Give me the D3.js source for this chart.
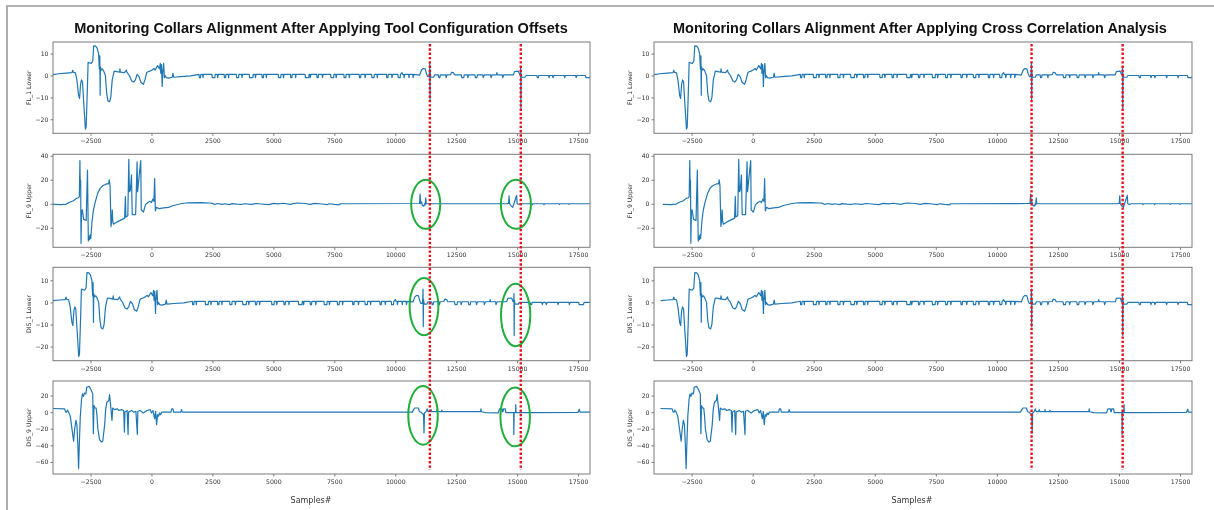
<!DOCTYPE html>
<html>
<head>
<meta charset="utf-8">
<script src="https://cdn.jsdelivr.net/npm/d3@7"></script>
<style>
  html, body { margin: 0; padding: 0; background: #fff; }
  svg { display: block; will-change: transform; }
  svg text { opacity: 0.995; }
</style>
</head>
<body>
<svg id="chart" width="1214" height="510"></svg>
<script>
// ---- data -------------------------------------------------------------
const panelTitles = [
  "Monitoring Collars Alignment After Applying Tool Configuration Offsets",
  "Monitoring Collars Alignment After Applying Cross Correlation Analysis"
];
const channelNames = ["FL_1 Lower", "FL_9 Upper", "DIS_1 Lower", "DIS_9 Upper"];
const sampleTicks = [-2500, 0, 2500, 5000, 7500, 10000, 12500, 15000, 17500];
const sampleExtent = [-4040, 17990];

const fl1Ticks = [-20, -10, 0, 10];
const fl9Ticks = [-20, 0, 20, 40];
const dis1Ticks = [-20, -10, 0, 10];
const dis9Ticks = [-60, -40, -20, 0, 20];
const fl1Extent = [-26.4, 15.3];
const fl9Extent = [-36.3, 41.2];
const dis1Extent = [-26.4, 15.9];
const dis9Extent = [-74.5, 37.5];

// sample shift of each channel in the two panels
const configShift = [0, 0, -275, 0];
const xcorrShift = [0, 360, 0, 265];

// reference sample positions of the two collars
const collarSamples = [11420, 15150];

// FL_1 Lower  [sample, value]
const fl1Lower = [
  [-4040,0.4],[-3800,0.8],[-3500,1.1],[-3260,1.3],[-3230,2.4],[-3200,1.4],[-3120,1.2],[-3060,-2],
  [-2990,-9],[-2950,-10.5],[-2910,-4],[-2870,-2],[-2830,-3],[-2770,-14],[-2710,-24.5],[-2680,-23.5],
  [-2630,-6],[-2600,6],[-2470,5.5],[-2410,6.5],[-2370,13.5],[-2290,13.4],[-2230,12.5],[-2170,10],
  [-2140,3],[-2120,9],[-2105,-9],[-2095,4],[-2060,2.5],[-2010,3],[-1960,2],[-1890,0],[-1840,-8],
  [-1790,-11.5],[-1720,-12],[-1670,-10],[-1610,-2],[-1530,2],[-1420,1.8],[-1310,1.5],[-1295,3],
  [-1275,1.5],[-1110,1.3],[-1030,2.5],[-1010,1.5],[-910,0],[-810,-2.5],[-730,-3],[-660,-2],
  [-590,0.5],[-510,-0.5],[-430,-3.2],[-330,-4],[-270,-2],[-190,1.5],[-70,2],[20,2.5],[100,3.2],
  [150,2.5],[250,4.5],[330,3],[360,5.5],[380,1],[410,5],[440,-5],[460,1],[500,5.5],[530,-1],
  [560,0],[610,-1],[700,-1.2],[850,-0.8],[880,1],[910,-0.8],[1200,-0.5],[1600,-0.2],[1900,0.4],
  [1950,0.5],[1965,-1],[2010,-1],[2025,0.5],[2100,0.5],[2115,-1],[2130,0.5],[2480,0.5],[2495,-1],
  [2600,-1],[2615,0.5],[2700,0.5],[2715,-1],[2740,0.5],[2980,0.5],[2995,-1],[3040,-1],[3055,0.5],
  [3150,0.5],[3165,-1],[3180,0.5],[3480,0.5],[3495,-1],[3570,-1],[3585,0.5],[3700,0.5],[3715,-1],
  [3740,0.5],[4010,0.5],[4025,-1],[4160,-1],[4175,0.5],[4250,0.5],[4265,-1],[4290,0.5],[4530,0.5],
  [4545,-1],[4590,-1],[4605,0.5],[4700,0.5],[4715,-1],[4730,0.5],[5200,0.5],[5215,-1],[5300,-1],
  [5315,0.5],[5400,0.5],[5415,-1],[5440,0.5],[5700,0.5],[5715,-1],[5760,-1],[5775,0.5],[5900,0.5],
  [5915,-1],[5930,0.5],[6300,0.5],[6315,-1],[6450,-1],[6465,0.5],[6500,0.5],[6515,-1],[6540,0.5],
  [6780,0.5],[6795,-1],[6840,-1],[6855,0.5],[7000,0.5],[7015,-1],[7040,0.5],[7350,0.5],[7365,-1],
  [7470,-1],[7485,0.5],[7560,0.5],[7575,-1],[7600,0.5],[7890,0.5],[7905,-1],[7970,-1],[7985,0.5],
  [8100,0.5],[8115,-1],[8140,0.5],[8520,0.5],[8535,-1],[8580,-1],[8595,0.5],[8750,0.5],[8765,-1],
  [8790,0.5],[9030,0.5],[9045,-1],[9130,-1],[9145,0.5],[9250,0.5],[9265,-1],[9280,0.5],[9640,0.5],
  [9655,-1],[9700,-1],[9715,0.5],[9850,0.5],[9865,-1],[9890,0.5],[10110,0.5],[10125,-1],[10200,-1],
  [10215,0.5],[10280,1.3],[10300,0.5],[10350,0.5],[10365,-1],[10390,0.5],[10550,0.5],[10565,-1],
  [10580,0.5],[10720,0.5],[10735,-1],[10760,0.5],[11000,0.2],[11080,2.5],[11150,3.2],[11230,3],
  [11280,0.8],[11330,-0.5],[11380,-0.5],[11405,1.5],[11415,6],[11425,-11],[11435,1.5],[11460,-0.8],
  [11570,-0.8],[11620,0.3],[11770,0.3],[11790,-1],[11830,-1],[11850,0.3],[12070,0.3],[12090,-1],
  [12120,0.3],[12270,0.4],[12310,1.5],[12390,1.2],[12430,0.3],[12710,0.3],[12730,-1],[12810,-1],
  [12830,0.3],[12960,0.3],[12980,-1],[13010,0.3],[13270,0.3],[13290,-1],[13350,-1],[13370,0.3],
  [13590,0.3],[13610,-1],[13650,0.3],[13910,0.3],[13930,-1],[13970,0.3],[14150,0.3],[14170,1.3],
  [14190,0.3],[14390,0.3],[14410,-1],[14450,0.3],[14850,0.3],[14890,1.8],[15050,2],[15100,0.5],
  [15135,0.5],[15145,4],[15155,-15],[15165,1],[15190,-0.8],[15320,-0.8],[15370,0],[15810,0],
  [15830,-1],[15870,-1],[15890,0],[16290,0],[16310,-1],[16340,0],[16450,0],[16470,-1],[16510,0],
  [16930,0],[16950,-1],[16980,0],[17400,0],[17420,-1],[17450,0],[17800,0],[17820,-1],[17990,-1]
];

// FL_9 Upper  [sample, value]
const fl9Upper = [
  [-4040,-0.5],[-3700,-0.7],[-3500,-0.3],[-3380,1],[-3200,2.5],[-3080,4.5],[-2990,5],[-2960,6],
  [-2935,36],[-2925,18],[-2915,20],[-2905,19],[-2890,-33],[-2870,-8],[-2840,-5],[-2780,-13],
  [-2680,-14],[-2625,28],[-2590,-31],[-2560,-27],[-2540,-30],[-2510,-26],[-2490,-29],[-2440,-15],
  [-2380,-5],[-2300,2],[-2200,9],[-2100,13],[-2000,15],[-1850,16.5],[-1760,16.5],[-1730,20],
  [-1700,15],[-1660,-19],[-1630,-14],[-1610,-5],[-1590,-14],[-1560,-17],[-1480,-16],[-1350,-14.5],
  [-1200,-13],[-1100,-12],[-1070,6],[-1050,-11],[-970,-10],[-930,37],[-905,10],[-870,11],
  [-820,24],[-790,-9],[-650,-9],[-590,35],[-570,10],[-560,12],[-440,36],[-420,-5],[-330,-7],
  [-250,-1],[-150,1],[-60,2],[0,1],[60,4],[100,2],[130,21],[160,-6],[200,-3],[300,-4],[500,-3.5],
  [700,-3],[900,-1.5],[1200,0],[1500,0.8],[2000,1],[2400,0.6],[2500,0.3],[2600,-0.6],[2700,0.2],
  [2900,-0.5],[3000,0],[3200,-0.7],[3300,0.1],[3500,-0.4],[3700,-0.6],[3800,0],[4100,-0.5],
  [4300,0.2],[4500,-0.2],[4800,-0.8],[5000,0.3],[5200,-0.1],[5400,0.4],[5700,-0.6],[5800,0.1],
  [6000,0.6],[6300,0.2],[6500,-0.5],[6700,0.3],[7000,-0.2],[7200,-0.8],[7300,0],[7500,-0.6],
  [7700,-0.9],[7750,0],[8000,0],[10980,0.2],[11000,0.5],[11020,8],[11045,0],[11080,1.5],
  [11120,-1.5],[11170,-2],[11210,0],[11230,-1],[11250,5],[11275,0],[14550,0],[14650,0.3],
  [14670,6.5],[14690,0],[14760,-2],[14820,-3],[14870,0],[14980,7],[15000,0],[15070,-0.5],
  [15150,0],[15600,0],[15620,-0.8],[15640,0],[16080,0],[16100,-0.8],[16120,0],[16720,0],
  [16740,-0.6],[16760,0],[17110,0],[17130,-0.6],[17150,0],[17990,0]
];

// DIS_1 Lower  [sample, value]
const dis1Lower = [
  [-3765,0.8],[-3500,1.1],[-3260,1.3],[-3230,2.4],[-3200,1.4],[-3120,1.2],[-3060,-2],
  [-2990,-9],[-2950,-10.5],[-2910,-4],[-2870,-2],[-2830,-3],[-2770,-14],[-2710,-24.5],[-2680,-23.5],
  [-2630,-6],[-2600,6],[-2470,5.5],[-2410,6.5],[-2370,13.5],[-2290,13.4],[-2230,12.5],[-2170,10],
  [-2140,3],[-2120,9],[-2105,-9],[-2095,4],[-2060,2.5],[-2010,3],[-1960,2],[-1890,0],[-1840,-8],
  [-1790,-11.5],[-1720,-12],[-1670,-10],[-1610,-2],[-1530,2],[-1420,1.8],[-1310,1.5],[-1295,3],
  [-1275,1.5],[-1110,1.3],[-1030,2.5],[-1010,1.5],[-910,0],[-810,-2.5],[-730,-3],[-660,-2],
  [-590,0.5],[-510,-0.5],[-430,-3.2],[-330,-4],[-270,-2],[-190,1.5],[-70,2],[20,2.5],[100,3.2],
  [150,2.5],[250,4.5],[330,3],[360,5.5],[380,1],[410,5],[440,-5],[460,1],[500,5.5],[530,-1],
  [560,0],[610,-1],[700,-1.2],[850,-0.8],[880,1],[910,-0.8],[1200,-0.5],[1600,-0.2],[1900,0.4],
  [1950,0.5],[1965,-1],[2010,-1],[2025,0.5],[2100,0.5],[2115,-1],[2130,0.5],[2480,0.5],[2495,-1],
  [2600,-1],[2615,0.5],[2700,0.5],[2715,-1],[2740,0.5],[2980,0.5],[2995,-1],[3040,-1],[3055,0.5],
  [3150,0.5],[3165,-1],[3180,0.5],[3480,0.5],[3495,-1],[3570,-1],[3585,0.5],[3700,0.5],[3715,-1],
  [3740,0.5],[4010,0.5],[4025,-1],[4160,-1],[4175,0.5],[4250,0.5],[4265,-1],[4290,0.5],[4530,0.5],
  [4545,-1],[4590,-1],[4605,0.5],[4700,0.5],[4715,-1],[4730,0.5],[5200,0.5],[5215,-1],[5300,-1],
  [5315,0.5],[5400,0.5],[5415,-1],[5440,0.5],[5700,0.5],[5715,-1],[5760,-1],[5775,0.5],[5900,0.5],
  [5915,-1],[5930,0.5],[6300,0.5],[6315,-1],[6450,-1],[6465,0.5],[6500,0.5],[6515,-1],[6540,0.5],
  [6780,0.5],[6795,-1],[6840,-1],[6855,0.5],[7000,0.5],[7015,-1],[7040,0.5],[7350,0.5],[7365,-1],
  [7470,-1],[7485,0.5],[7560,0.5],[7575,-1],[7600,0.5],[7890,0.5],[7905,-1],[7970,-1],[7985,0.5],
  [8100,0.5],[8115,-1],[8140,0.5],[8520,0.5],[8535,-1],[8580,-1],[8595,0.5],[8750,0.5],[8765,-1],
  [8790,0.5],[9030,0.5],[9045,-1],[9130,-1],[9145,0.5],[9250,0.5],[9265,-1],[9280,0.5],[9640,0.5],
  [9655,-1],[9700,-1],[9715,0.5],[9850,0.5],[9865,-1],[9890,0.5],[10110,0.5],[10125,-1],[10200,-1],
  [10215,0.5],[10280,1.3],[10300,0.5],[10350,0.5],[10365,-1],[10390,0.5],[10550,0.5],[10565,-1],
  [10580,0.5],[10720,0.5],[10735,-1],[10760,0.5],[11000,0.2],[11080,2.5],[11150,3.2],[11230,3],
  [11280,0.8],[11330,-0.5],[11380,-0.5],[11405,1.5],[11415,6],[11425,-11],[11435,1.5],[11460,-0.8],
  [11570,-0.8],[11620,0.3],[11770,0.3],[11790,-1],[11830,-1],[11850,0.3],[12070,0.3],[12090,-1],
  [12120,0.3],[12270,0.4],[12310,1.5],[12390,1.2],[12430,0.3],[12710,0.3],[12730,-1],[12810,-1],
  [12830,0.3],[12960,0.3],[12980,-1],[13010,0.3],[13270,0.3],[13290,-1],[13350,-1],[13370,0.3],
  [13590,0.3],[13610,-1],[13650,0.3],[13910,0.3],[13930,-1],[13970,0.3],[14150,0.3],[14170,1.3],
  [14190,0.3],[14390,0.3],[14410,-1],[14450,0.3],[14850,0.3],[14890,1.8],[15050,2],[15100,0.5],
  [15135,0.5],[15145,4],[15155,-15],[15165,1],[15190,-0.8],[15320,-0.8],[15370,0],[15810,0],
  [15830,-1],[15870,-1],[15890,0],[16290,0],[16310,-1],[16340,0],[16450,0],[16470,-1],[16510,0],
  [16930,0],[16950,-1],[16980,0],[17400,0],[17420,-1],[17450,0],[17800,0],[17820,-1],[18000,-1],
  [18020,0],[18300,0]
];

// DIS_9 Upper  [sample, value]
const dis9Upper = [
  [-4040,4.4],[-3560,4],[-3520,0],[-3480,0],[-3450,2.5],[-3400,0],[-3330,-5],[-3240,-25],
  [-3195,-35],[-3150,-20],[-3100,-10],[-3060,-15],[-3020,-40],[-2990,-68],[-2950,-30],[-2920,-5],
  [-2870,15],[-2830,22],[-2790,19],[-2750,23],[-2690,22],[-2660,30],[-2560,31],[-2480,27],
  [-2410,22],[-2385,-26],[-2360,8],[-2320,5],[-2270,5],[-2240,-3],[-2200,-20],[-2130,-33],
  [-2060,-36],[-2000,-35],[-1920,-15],[-1880,3],[-1830,12],[-1750,14],[-1720,21],[-1690,12],
  [-1650,0],[-1620,-10],[-1590,5],[-1510,3],[-1410,4],[-1330,2],[-1230,3],[-1140,2],[-1110,-24],
  [-1090,0],[-1000,2],[-960,-27],[-940,0],[-820,2],[-730,0],[-640,1],[-580,-27],[-560,1],
  [-470,2],[-330,-1],[-190,2],[-50,3],[0,-1],[60,2],[130,-8],[170,1],[210,-15],[250,-3],
  [290,-5],[330,-1],[370,-3],[420,0],[800,0],[830,4],[880,4],[910,0],[1200,0],[1230,3],[1260,0],
  [10700,0],[10754,3],[10800,5],[10950,5],[10992,0.5],[11060,0],[11118,-2],[11160,-2],[11180,-25],
  [11200,-1],[11270,1],[11309,4],[11340,0.5],[11440,0.5],[11468,3],[11500,0.5],[11690,0.5],
  [11705,3],[11720,0.5],[11900,0.5],[11911,2.5],[11925,0.5],[13500,0.5],[13517,4],[13535,0.5],
  [13700,-0.5],[14230,-0.8],[14278,4],[14380,4],[14400,0.5],[14420,0.5],[14440,4],[14516,4],
  [14540,-0.5],[14860,-0.5],[14865,-27],[14880,-0.5],[14935,-0.5],[14944,9],[14955,-0.5],
  [15600,-0.6],[17500,-0.2],[17550,3.5],[17580,0],[17990,0]
];

const channelData = [fl1Lower, fl9Upper, dis1Lower, dis9Upper];
const channelExtents = [fl1Extent, fl9Extent, dis1Extent, dis9Extent];
const channelTicks = [fl1Ticks, fl9Ticks, dis1Ticks, dis9Ticks];

// circled collar responses on the left panel: channel row, centre sample/value, radii
const circledResponses = [
  { row: 1, sample: 11250, value: -0.5, dSample: 595, dValue: 20.4 },
  { row: 1, sample: 14950, value: -0.5, dSample: 615, dValue: 20.4 },
  { row: 2, sample: 11180, value: -1.9, dSample: 590, dValue: 13.0 },
  { row: 2, sample: 14940, value: -5.7, dSample: 600, dValue: 14.1 },
  { row: 3, sample: 11140, value: -3.9, dSample: 605, dValue: 35.4 },
  { row: 3, sample: 14920, value: -5.7, dSample: 605, dValue: 35.5 }
];

// ---- layout -----------------------------------------------------------
const svg = d3.select("#chart");
const W = 1214, H = 510;
const panelX = [[53, 590], [654, 1192]];
const rowY = [[42, 133.3], [154.3, 247.3], [267.3, 360.7], [381, 474]];
const titleCenter = [321, 920];
const titleWidth = 494;
const xLabelCenter = [311, 912];
const tickFont = "DejaVu Sans, sans-serif";
const tickSize = 6.2;
const lineColor = "#1f77b4";
const minus = s => s.replace("-", "\u2212");

svg.append("rect").attr("width", W).attr("height", H).attr("fill", "#fff");

// outer frame of the figure
svg.append("path")
  .attr("d", `M7,${H + 2} V6 H${W + 2}`)
  .attr("fill", "none").attr("stroke", "#9a9a9a").attr("stroke-width", 1.6);

const defs = svg.append("defs");

[0, 1].forEach(p => {
  const [x0, x1] = panelX[p];
  const x = d3.scaleLinear().domain(sampleExtent).range([x0, x1]);
  const shifts = p === 0 ? configShift : xcorrShift;

  // title, fitted to its measured width
  const t = svg.append("text")
    .attr("x", titleCenter[p]).attr("y", 33)
    .attr("text-anchor", "middle")
    .attr("font-family", "Liberation Sans, Arial, sans-serif")
    .attr("font-weight", "bold")
    .attr("font-size", 14)
    .attr("fill", "#111")
    .text(panelTitles[p]);
  const tw = t.node().getComputedTextLength();
  t.attr("font-size", 14 * titleWidth / tw);

  channelNames.forEach((name, r) => {
    const [y0, y1] = rowY[r];
    const y = d3.scaleLinear().domain(channelExtents[r]).range([y1, y0]);
    const g = svg.append("g");

    const clipId = `clip-${p}-${r}`;
    defs.append("clipPath").attr("id", clipId)
      .append("rect").attr("x", x0).attr("y", y0).attr("width", x1 - x0).attr("height", y1 - y0);

    const xAxis = d3.axisBottom(x).tickValues(sampleTicks)
      .tickFormat(d => minus(d3.format("d")(d)))
      .tickSize(2.5).tickPadding(3);
    const yAxis = d3.axisLeft(y).tickValues(channelTicks[r])
      .tickFormat(d => minus(d3.format("d")(d)))
      .tickSize(2.5).tickPadding(2);

    const gx = g.append("g").attr("transform", `translate(0,${y1})`).call(xAxis);
    const gy = g.append("g").attr("transform", `translate(${x0},0)`).call(yAxis);
    [gx, gy].forEach(a => {
      a.select(".domain").remove();
      a.selectAll("line").attr("stroke", "#555").attr("stroke-width", 0.8);
      a.selectAll("text").attr("font-family", tickFont).attr("font-size", tickSize).attr("fill", "#333");
    });

    // signal
    const line = d3.line()
      .x(d => x(d[0] + shifts[r]))
      .y(d => y(d[1]));
    g.append("path")
      .datum(channelData[r])
      .attr("clip-path", `url(#${clipId})`)
      .attr("fill", "none")
      .attr("stroke", lineColor)
      .attr("stroke-width", 1.2)
      .attr("stroke-linejoin", "round")
      .attr("d", line);

    // frame
    g.append("rect")
      .attr("x", x0).attr("y", y0).attr("width", x1 - x0).attr("height", y1 - y0)
      .attr("fill", "none").attr("stroke", "#7a7a7a").attr("stroke-width", 1);

    // channel label
    g.append("text")
      .attr("transform", `translate(${x0 - 25},${(y0 + y1) / 2}) rotate(-90)`)
      .attr("text-anchor", "middle")
      .attr("dominant-baseline", "central")
      .attr("font-family", tickFont).attr("font-size", 6.2).attr("fill", "#333")
      .text(name);

    // circled responses
    if (p === 0) {
      circledResponses.filter(c => c.row === r).forEach(c => {
        svg.append("ellipse")
          .attr("cx", x(c.sample)).attr("cy", y(c.value))
          .attr("rx", x(c.sample + c.dSample) - x(c.sample))
          .attr("ry", y(0) - y(c.dValue))
          .attr("fill", "none").attr("stroke", "#1fae3c").attr("stroke-width", 2);
      });
    }
  });

  // x label
  svg.append("text")
    .attr("x", xLabelCenter[p]).attr("y", 503)
    .attr("text-anchor", "middle")
    .attr("font-family", tickFont).attr("font-size", 8).attr("fill", "#333")
    .text("Samples#");

  // collar reference lines
  collarSamples.forEach(s => {
    svg.append("line")
      .attr("x1", x(s)).attr("x2", x(s))
      .attr("y1", 44).attr("y2", 470)
      .attr("stroke", "#e8101a").attr("stroke-width", 2.4)
      .attr("stroke-dasharray", "2.4 1.9");
  });
});
</script>
</body>
</html>
